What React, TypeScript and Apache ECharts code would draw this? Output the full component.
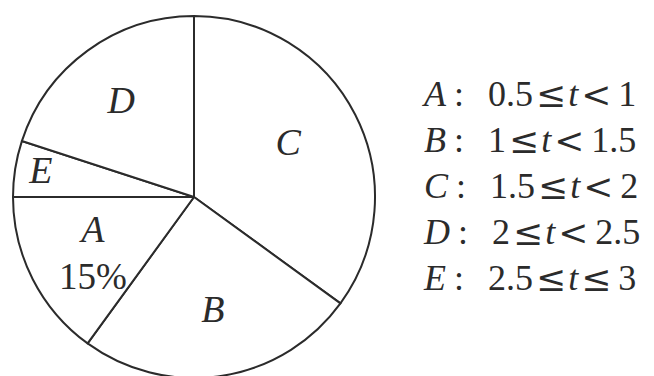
import React, { useEffect, useRef } from "react";
import * as echarts from "echarts";

// Pie slices, clockwise from the top
const categories = ["C", "B", "A", "E", "D"];
const shares = [35, 25, 15, 5, 20];

// Legend rows
const legendNames = ["A", "B", "C", "D", "E"];
const lowBounds = ["0.5", "1", "1.5", "2", "2.5"];
const lowRels = ["≤", "≤", "≤", "≤", "≤"];
const highRels = ["<", "<", "<", "<", "≤"];
const highBounds = ["1", "1.5", "2", "2.5", "3"];

const SERIF = "Liberation Serif";
const INK = "#2b2b2b";

export default function App() {
  const ref = useRef<HTMLDivElement>(null);
  useEffect(() => {
    document.body.style.margin = "0";
    const chart = echarts.init(ref.current!, null, { renderer: "svg" });
    const data = categories.map((c, i) => ({ name: c, value: shares[i] }));
    const labelOffsets: Record<string, number[]> = {
      C: [-7, -3],
      D: [-6, -5],
      A: [0, 4],
      E: [-41, -9],
      B: [1, 0],
    };
    const labelData = categories.map((c, i) => ({
      name: c,
      value: shares[i],
      label: { offset: labelOffsets[c] },
    }));
    const lf = 36;
    const lh = 36;
    chart.setOption({
      animation: false,
      backgroundColor: "#ffffff",
      textStyle: { fontFamily: SERIF },
      legend: {
        data: legendNames,
        orient: "vertical",
        left: 418,
        top: 76,
        padding: 0,
        itemGap: 10,
        itemWidth: 0,
        itemHeight: 0,
        icon: "rect",
        selectedMode: false,
        formatter: (name: string) => {
          const k = legendNames.indexOf(name);
          return `{i|${name}}{c|:}{n|${lowBounds[k]}}{r|${lowRels[k]}}{t|t}{r|${highRels[k]}}{h|${highBounds[k]}}`;
        },
        textStyle: {
          color: INK,
          fontFamily: SERIF,
          fontSize: lf,
          lineHeight: lh,
          rich: {
            i: { fontFamily: SERIF, fontStyle: "italic", fontSize: lf, color: INK, lineHeight: lh },
            c: { fontFamily: SERIF, fontSize: lf, color: INK, lineHeight: lh, padding: [0, 24, 0, 8] },
            n: { fontFamily: SERIF, fontSize: lf, color: INK, lineHeight: lh },
            h: { fontFamily: SERIF, fontSize: lf, color: INK, lineHeight: lh, padding: [0, 0, 0, 5] },
            r: { fontFamily: "DejaVu Serif", fontSize: 36, color: INK, lineHeight: lh, padding: [0, 2, 0, 3] },
            t: { fontFamily: SERIF, fontStyle: "italic", fontSize: lf, color: INK, lineHeight: lh },
          },
        },
      },
      series: [
        {
          type: "pie",
          center: [194, 197],
          radius: [0, 181],
          startAngle: 90,
          clockwise: true,
          silent: true,
          data,
          label: { show: false },
          labelLine: { show: false },
          itemStyle: { color: "#ffffff", borderColor: INK, borderWidth: 2 },
          emphasis: { disabled: true },
        },
        {
          type: "pie",
          center: [194, 197],
          radius: [40, 181],
          startAngle: 90,
          clockwise: true,
          silent: true,
          data: labelData,
          itemStyle: { color: "transparent", borderWidth: 0 },
          labelLine: { show: false },
          emphasis: { disabled: true },
          label: {
            show: true,
            position: "inside",
            fontFamily: SERIF,
            fontSize: 38,
            color: INK,
            formatter: (p: any) =>
              p.name === "A" ? `{i|${p.name}}\n{n|${p.value}%}` : `{i|${p.name}}`,
            rich: {
              i: { fontFamily: SERIF, fontStyle: "italic", fontSize: 38, color: INK, lineHeight: 47 },
              n: { fontFamily: SERIF, fontSize: 37, color: INK, lineHeight: 47 },
            },
          },
        },
      ],
    });
    return () => chart.dispose();
  }, []);
  return (
    <div
      ref={ref}
      style={{ position: "absolute", left: 0, top: 0, width: 654, height: 376 }}
    />
  );
}
